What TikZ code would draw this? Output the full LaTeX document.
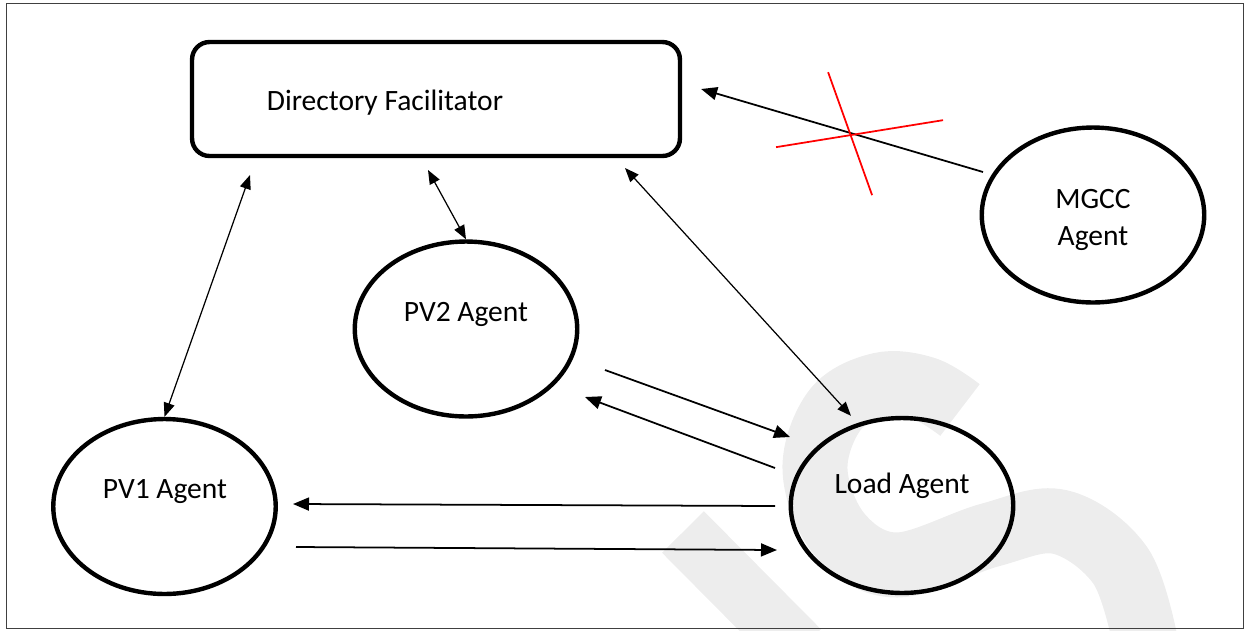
\documentclass[tikz,border=0pt]{standalone}
\usepackage{fontspec}
\setmainfont{Carlito}
\usetikzlibrary{arrows.meta,shapes.geometric,calc}

\begin{document}
\begin{tikzpicture}[x=0.02cm,y=-0.02cm,
        agent/.style={ellipse,draw,line width=2.5pt,minimum width=4.45cm,
          minimum height=3.5cm,inner sep=0pt},
        facil/.style={rectangle,draw,rounded corners=0.35cm,line width=2.5pt,
          minimum width=9.76cm,minimum height=2.28cm},
        txt/.style={font=\fontsize{16.8}{21}\selectfont,inner sep=0pt,align=center},
        dbl/.style={{Triangle[length=0.28cm,width=0.22cm]}-{Triangle[length=0.28cm,width=0.22cm]},
          line width=0.7pt},
        msg/.style={-{Triangle[length=0.32cm,width=0.26cm]},line width=1pt},
        cross/.style={red,line width=1pt},
        wmark/.style={gray!14,line width=1.3cm}]

  \useasboundingbox (0,0) rectangle (1245,630);

  % watermark
  \begin{scope}
    \clip (0,0) rectangle (1245,630);
    \draw[wmark] plot[smooth,tension=0.6] coordinates {(960,410) (925,389) (880,385)
      (835,410) (815,470) (840,535) (897,565) (990,535) (1060,522) (1120,565) (1145,640)};
    \draw[wmark,line width=1.18cm] (683,532) -- (800,650);
  \end{scope}

  \draw[black!75,line width=0.5pt] (6,3) rectangle (1243,628);

  \node[facil] (df) at (436,99) {};
  \node[txt] (dftext) at (385,103) {Directory Facilitator};

  \node[agent] (pv2) at (466,329) {};
  \node[txt] (pv2text) at (466,314) {PV2 Agent};
  \node[agent] (pv1) at (164.5,506.5) {};
  \node[txt] (pv1text) at (165,492) {PV1 Agent};
  \node[agent] (load) at (902,505.5) {};
  \node[txt] (loadtext) at (902,486) {Load Agent};
  \node[agent] (mgcc) at (1093,215) {};
  \node[txt] (mgcctext) at (1093,220) {MGCC\\Agent};

  \draw[dbl] ($(df)+(-186,76)$) -- (pv1.north);
  \draw[dbl] ($(df)+(-8,71)$) -- (pv2.north);
  \draw[dbl] ($(df)+(189,69)$) -- ($(load.north)+(-51,0)$);

  \draw[msg] ($(mgcc)+(-110,-43)$) -- coordinate[pos=0.468] (cut) ($(df.east)+(19,-10)$);
  \draw[cross] ($(cut)+(-23,-61)$) -- ($(cut)+(21,62)$);
  \draw[cross] ($(cut)+(-75,14)$) -- ($(cut)+(92,-13)$);

  \draw[msg] ($(pv2)+(139,41)$) -- ($(load)+(-112,-68.5)$);
  \draw[msg] ($(load)+(-127,-37.5)$) -- ($(pv2)+(119,68)$);
  \draw[msg] ($(load)+(-127,0.5)$) -- ($(pv1)+(128.5,-2.5)$);
  \draw[msg] ($(pv1)+(131.5,40.5)$) -- ($(load)+(-125,44.5)$);

\end{tikzpicture}
\end{document}
